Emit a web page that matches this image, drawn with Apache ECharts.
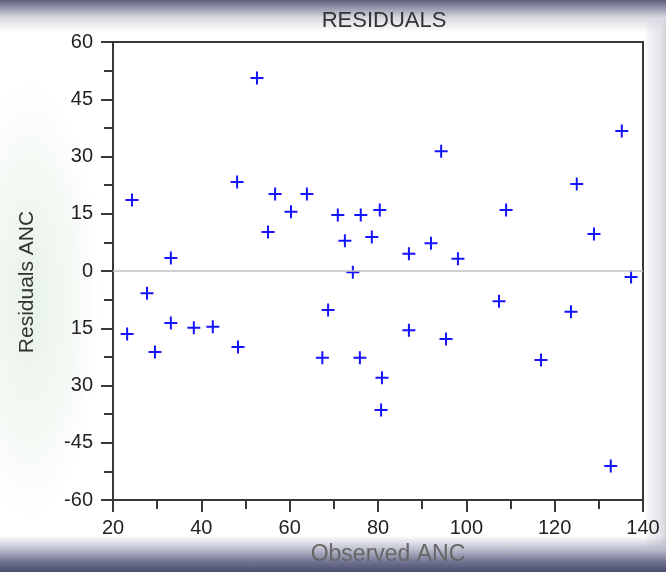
<!DOCTYPE html>
<html>
<head>
<meta charset="utf-8">
<script src="https://cdn.jsdelivr.net/npm/echarts@6/dist/echarts.min.js"></script>
<style>
html,body{margin:0;padding:0;}
#wrap{position:relative;width:666px;height:572px;overflow:hidden;
background:
 linear-gradient(to bottom,#5c6079 0px,#8e91a6 7px,#d9dae2 18px,rgba(255,255,255,0) 32px),
 linear-gradient(to top,#4a4e6c 0px,#6f7390 10px,#b9bbcb 22px,rgba(255,255,255,0) 36px),
 linear-gradient(to left,#d2d2d8 0px,#e6e6ea 6px,#f0f0f3 16px,rgba(255,255,255,0) 22px),
 radial-gradient(ellipse 70px 220px at 30px 300px,#e8f3e8 0%,#f4f9f4 60%,rgba(255,255,255,0) 100%),
 #ffffff;}
#chart{position:absolute;left:0;top:0;width:666px;height:572px;}
</style>
</head>
<body>
<div id="wrap"><div id="chart"></div></div>
<script>
// Observed ANC (x) and residuals (y)
const observedANC = [23.2,24.3,27.7,29.5,33.1,33.1,38.3,42.6,48.1,48.3,52.6,55.1,56.7,60.3,63.9,67.4,68.7,70.9,72.5,74.3,76.1,75.9,78.6,80.4,80.9,80.7,87.0,87.0,92.0,94.3,95.4,98.1,107.4,109.0,116.9,123.7,125.0,128.9,132.7,135.2,137.3];
const residualsANC = [-16.5,18.6,-5.8,-21.2,3.4,-13.6,-14.9,-14.6,23.3,-19.9,50.6,10.2,20.2,15.5,20.2,-22.7,-10.2,14.7,7.9,-0.3,14.7,-22.7,8.9,16.0,-28.0,-36.4,4.5,-15.5,7.3,31.4,-17.8,3.2,-7.9,16.0,-23.3,-10.7,22.8,9.7,-51.1,36.7,-1.6];
const yTickValues = [60,45,30,15,0,-15,-30,-45,-60];
const yTickLabels = ['60','45','30','15','0','15','30','-45','-60'];
const xTickLabels = ['20','40','60','80','100','120','140'];

const points = observedANC.map((x,i)=>[x,residualsANC[i]]);
const chart = echarts.init(document.getElementById('chart'), null, {renderer:'canvas'});
const plus = 'path://M5.5,0h2v5.5h5.5v2h-5.5v5.5h-2v-5.5h-5.5v-2h5.5z';
const FONT = 'Liberation Sans, Arial, sans-serif';
chart.setOption({
  backgroundColor:'transparent',
  animation:false,
  title:{text:'RESIDUALS',left:379,textAlign:'center',top:5,
    textStyle:{fontFamily:FONT,fontSize:22,fontWeight:'normal',color:'#333'}},
  grid:{left:113,right:23,top:42,bottom:72,outerBoundsMode:'none',containLabel:false,
    show:true,borderColor:'#383838',borderWidth:2,backgroundColor:'#ffffff'},
  xAxis:{type:'value',min:20,max:140,interval:20,
    name:'Observed ANC',nameLocation:'middle',nameGap:42,
    nameTextStyle:{fontFamily:FONT,fontSize:23,color:'#666',padding:[0,0,0,20]},
    axisLine:{show:true,onZero:false,lineStyle:{color:'#383838',width:2}},
    axisTick:{show:true,inside:false,length:12,lineStyle:{color:'#383838',width:2}},
    minorTick:{show:true,splitNumber:2,length:9,lineStyle:{color:'#383838',width:2}},
    splitLine:{show:false},
    axisLabel:{margin:18,fontFamily:FONT,fontSize:20,color:'#222',
      formatter:(v)=>{const i=Math.round((v-20)/20);return xTickLabels[i]!==undefined?xTickLabels[i]:'';}}
  },
  yAxis:{type:'value',min:-60,max:60,interval:15,
    name:'Residuals ANC',nameLocation:'middle',nameGap:75,
    nameTextStyle:{fontFamily:FONT,fontSize:21,color:'#333',padding:[0,22,0,0]},
    axisLine:{show:true,onZero:false,lineStyle:{color:'#383838',width:2}},
    axisTick:{show:true,inside:false,length:12,lineStyle:{color:'#383838',width:2}},
    minorTick:{show:true,splitNumber:2,length:9,lineStyle:{color:'#383838',width:2}},
    splitLine:{show:false},
    axisLabel:{margin:20,fontFamily:FONT,fontSize:20,color:'#222',
      formatter:(v)=>{const i=yTickValues.indexOf(v);return i>=0?yTickLabels[i]:'';}}
  },
  series:[{
    type:'scatter',data:points,symbol:plus,symbolSize:13,
    itemStyle:{color:'#1414ff',opacity:1},
    markLine:{silent:true,symbol:'none',label:{show:false},
      lineStyle:{color:'#c0c0c0',width:1.5,type:'solid'},data:[{yAxis:0}]}
  }]
});
</script>
</body>
</html>
